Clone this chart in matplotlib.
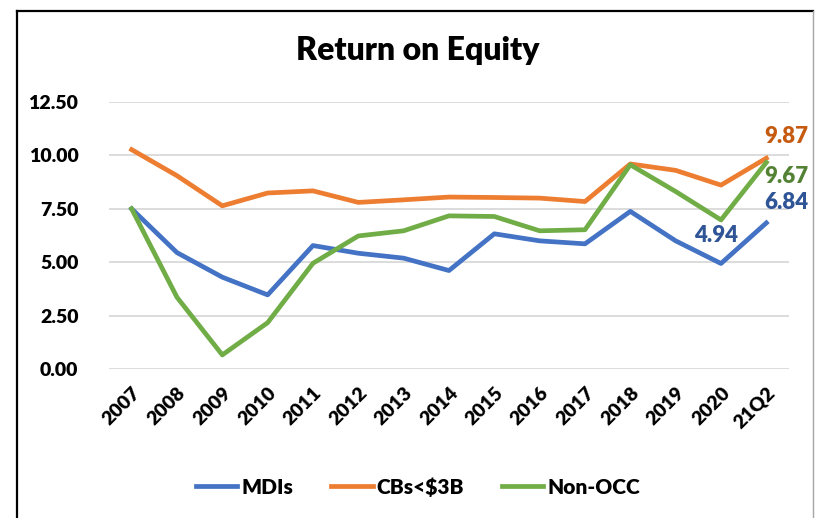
import matplotlib.pyplot as plt
from matplotlib.lines import Line2D

plt.rcParams['font.family'] = ['Lato', 'DejaVu Sans']

# data
years = ['2007', '2008', '2009', '2010', '2011', '2012', '2013', '2014',
         '2015', '2016', '2017', '2018', '2019', '2020', '21Q2']
mdis = [7.50, 5.45, 4.30, 3.47, 5.78, 5.42, 5.19, 4.61, 6.33, 6.00, 5.86, 7.38, 6.00, 4.94, 6.84]
cbs = [10.27, 9.05, 7.64, 8.24, 8.34, 7.80, 7.92, 8.05, 8.03, 8.00, 7.84, 9.60, 9.30, 8.61, 9.87]
non_occ = [7.50, 3.36, 0.66, 2.17, 4.95, 6.23, 6.47, 7.17, 7.14, 6.47, 6.52, 9.56, 8.31, 6.98, 9.67]
yticks = [0, 2.5, 5, 7.5, 10, 12.5]

blue, orange, green = '#4472C4', '#ED7D31', '#70AD47'
W = 'heavy'

fig = plt.figure(figsize=(8.15, 5.18), dpi=100)
ax = fig.add_axes([0.1337, 0.2876, 0.8344, 0.5155])

x = range(len(years))
ax.plot(x, mdis, color=blue, lw=3.4, label='MDIs')
ax.plot(x, cbs, color=orange, lw=3.4, label='CBs<$3B')
ax.plot(x, non_occ, color=green, lw=3.4, label='Non-OCC')

ax.set_xlim(-0.5, len(years) - 0.5)
ax.set_ylim(0, 12.5)
ax.set_yticks(yticks)
ax.set_yticklabels([f'{v:.2f}' for v in yticks], fontsize=14, fontweight=W)
ax.set_xticks(list(x))
ax.set_xticklabels(years, rotation=45, ha='right', rotation_mode='anchor',
                   fontsize=14, fontweight=W)
ax.tick_params(length=0, pad=22)
ax.tick_params(axis='x', pad=11)
ax.grid(axis='y', color='#D9D9D9', lw=1.3)
ax.set_axisbelow(True)
for s in ax.spines.values():
    s.set_visible(False)

# value labels at the end
last = len(years) - 1
lab = dict(textcoords='offset pixels', ha='center', va='center',
           fontsize=16, fontweight=W)
ax.annotate(f'{cbs[-1]:.2f}', (last, cbs[-1]), xytext=(20, 22), color='#C55A11', **lab)
ax.annotate(f'{non_occ[-1]:.2f}', (last, non_occ[-1]), xytext=(20, -14), color='#548235', **lab)
ax.annotate(f'{mdis[-1]:.2f}', (last, mdis[-1]), xytext=(20, 20), color='#2F5597', **lab)
ax.annotate(f'{mdis[-2]:.2f}', (last - 1, mdis[-2]), xytext=(-5, 28), color='#2F5597', **lab)

fig.text(0.512, 0.902, 'Return on Equity', ha='center', va='center',
         fontsize=23, fontweight=W)

handles = [Line2D([], [], color=c, lw=3.4) for c in (blue, orange, green)]
fig.legend(handles, ['MDIs', 'CBs<$3B', 'Non-OCC'], loc='center',
           bbox_to_anchor=(0.513, 0.06), ncol=3, frameon=False,
           prop={'size': 15, 'weight': W}, handlelength=2.0,
           handletextpad=0.2, columnspacing=1.8)

# chart frame
fig.add_artist(Line2D([17 / 815, 17 / 815], [0, 1 - 11 / 518], color='black', lw=1.6))
fig.add_artist(Line2D([17 / 815, 813 / 815], [1 - 11 / 518, 1 - 11 / 518], color='black', lw=1.6))
fig.add_artist(Line2D([813 / 815, 813 / 815], [0, 1 - 11 / 518], color='#A6A6A6', lw=1))

fig.savefig('out.png', dpi=100)
